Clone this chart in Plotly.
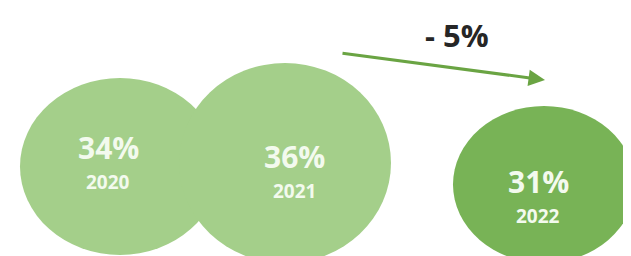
import plotly.graph_objects as go

# ---- data ----
years = ["2020", "2021", "2022"]
shares = [34, 36, 31]
change_label = "- 5%"

# ---- layout / style (pixel space of a 631x256 canvas) ----
W, H = 631, 256
ellipses = [  # x0, x1, y0, y1
    (12, 212, 70, 247),
    (171, 383, 55, 255),
    (445, 627, 98, 255),
]
fills = ["#a4cf8a", "#a4cf8a", "#78b356"]
value_pos = [(100, 139), (286, 148), (530, 173)]
year_pos = [(100, 174), (286, 183), (530, 208)]
arrow_from = (333, 45)
arrow_to = (537, 72)
change_pos = (449, 27)

fig = go.Figure()
# invisible trace to establish axes
fig.add_trace(go.Scatter(x=[0, W], y=[0, H], mode="markers",
                         marker=dict(opacity=0), hoverinfo="skip",
                         showlegend=False))

for (x0, x1, y0, y1), c in zip(ellipses, fills):
    fig.add_shape(type="circle", xref="x", yref="y", x0=x0, x1=x1, y0=y0, y1=y1,
                  fillcolor=c, line=dict(width=0), layer="below")

for yr, v, (vx, vy), (yx, yy) in zip(years, shares, value_pos, year_pos):
    fig.add_annotation(x=vx, y=vy, xref="x", yref="y", text=f"{v}%", showarrow=False,
                       font=dict(family="Open Sans", size=30, color="#f3faee", weight=700))
    fig.add_annotation(x=yx, y=yy, xref="x", yref="y", text=yr, showarrow=False,
                       font=dict(family="Open Sans", size=19, color="#f3faee", weight=700))

fig.add_annotation(x=arrow_to[0], y=arrow_to[1], ax=arrow_from[0], ay=arrow_from[1],
                   xref="x", yref="y", axref="x", ayref="y", text="",
                   showarrow=True, arrowhead=2, arrowsize=1.1, arrowwidth=3,
                   arrowcolor="#6aa443")
fig.add_annotation(x=change_pos[0], y=change_pos[1], xref="x", yref="y",
                   text=change_label, showarrow=False,
                   font=dict(family="Open Sans", size=31, color="#262626", weight=700))

fig.update_layout(width=W, height=H, margin=dict(l=0, r=0, t=0, b=0),
                  paper_bgcolor="white", plot_bgcolor="white", showlegend=False)
fig.update_xaxes(range=[0, W], visible=False, fixedrange=True)
fig.update_yaxes(range=[H, 0], visible=False, fixedrange=True)

fig.write_html("out.html")
